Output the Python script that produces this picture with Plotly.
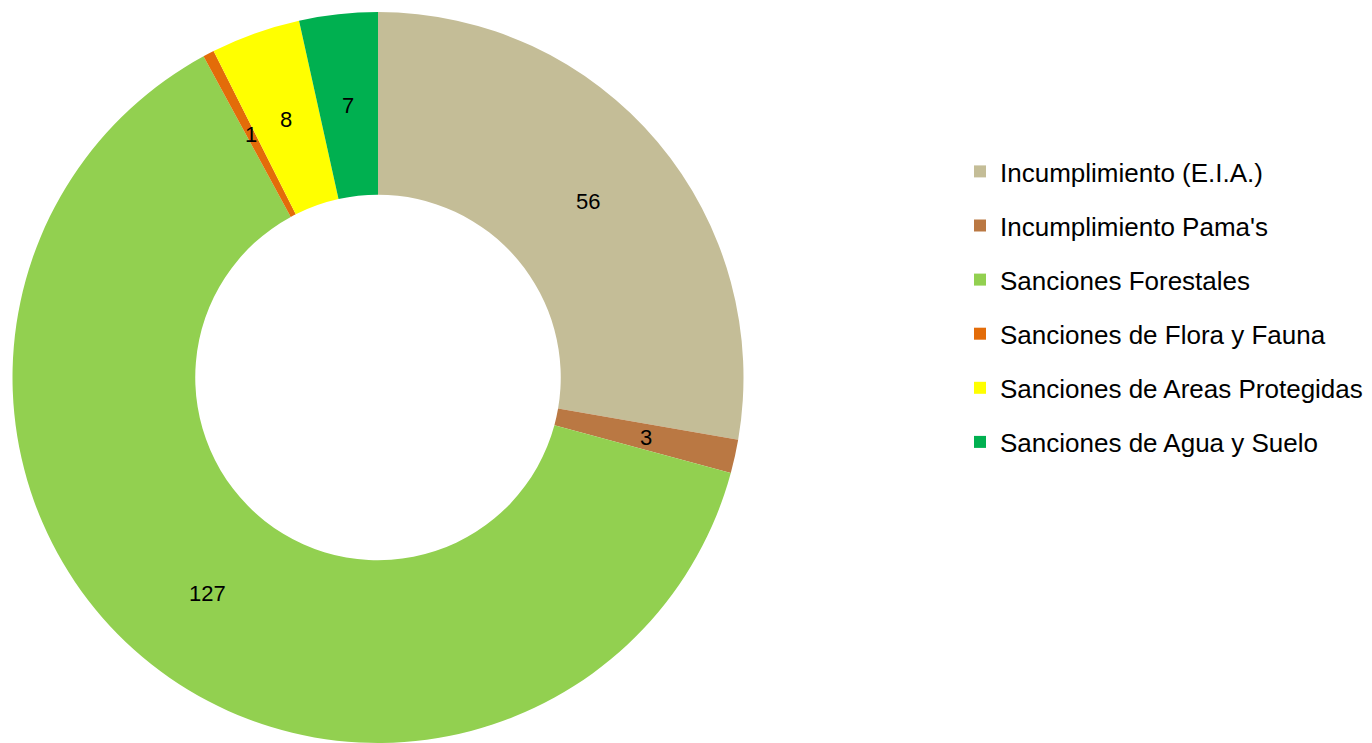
import math
import plotly.graph_objects as go

categories = [
    "Incumplimiento (E.I.A.)",
    "Incumplimiento Pama's",
    "Sanciones Forestales",
    "Sanciones de Flora y Fauna",
    "Sanciones de Areas Protegidas",
    "Sanciones de Agua y Suelo",
]
values = [56, 3, 127, 1, 8, 7]
colors = ["#C4BD97", "#BA7843", "#92D050", "#E36C09", "#FFFF00", "#00B050"]

# page body has an 8px margin, so the figure is sized to fit the window
W, H = 1364, 735
cx, cy, R = 370, 370, 366
hole = 0.5

fig = go.Figure()
fig.add_trace(go.Pie(
    labels=categories, values=values, sort=False, direction="clockwise",
    rotation=0, hole=hole, marker=dict(colors=colors, line=dict(width=0)),
    textinfo="none", showlegend=False, hoverinfo="label+value",
    domain=dict(x=[(cx - R) / W, (cx + R) / W],
                y=[max(0, (H - cy - R) / H), min(1, (H - cy + R) / H)]),
))

# value labels at mid-ring, placed from the cumulative values
total = sum(values)
cum = 0
rmid = R * (1 + hole) / 2
for v in values:
    ang = (cum + v / 2) / total * 2 * math.pi
    cum += v
    px = cx + rmid * math.sin(ang)
    py = cy - rmid * math.cos(ang)
    fig.add_annotation(x=px / W, y=1 - py / H, xref="paper", yref="paper",
                       xanchor="center", yanchor="middle",
                       text=str(v), showarrow=False,
                       font=dict(family="Liberation Sans, Arial", size=22, color="black"))

# legend entries
for i, (c, col) in enumerate(zip(categories, colors)):
    fig.add_trace(go.Scatter(
        x=[None], y=[None], mode="markers", name=c, legendgroup=str(i),
        marker=dict(symbol="square", size=12, color=col), showlegend=True,
    ))

fig.update_layout(
    width=W, height=H, margin=dict(l=0, r=0, t=0, b=0),
    paper_bgcolor="white", plot_bgcolor="white",
    xaxis=dict(visible=False), yaxis=dict(visible=False),
    legend=dict(x=952 / W, y=1 - 140 / H, xanchor="left", yanchor="top",
                font=dict(family="Liberation Sans, Arial", size=26, color="black"),
                tracegroupgap=17.3, itemwidth=30, bgcolor="rgba(0,0,0,0)"),
    font=dict(family="Liberation Sans, Arial"),
)

fig.write_html("out.html")
